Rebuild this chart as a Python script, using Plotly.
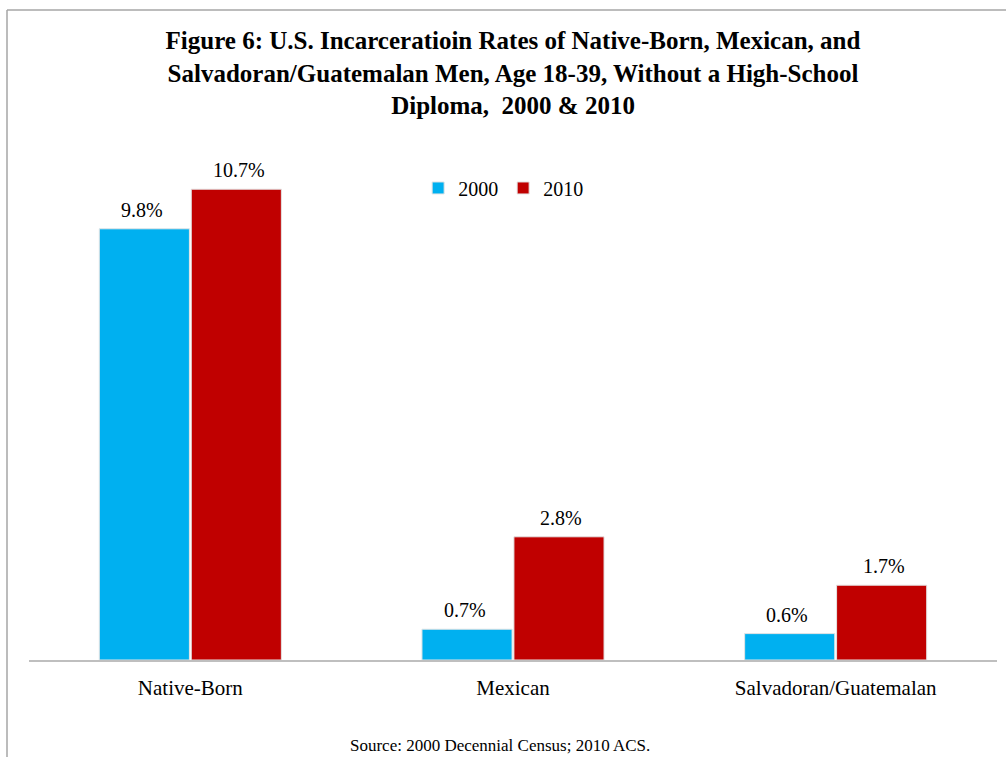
import plotly.graph_objs as go

categories = ['Native-Born', 'Mexican', 'Salvadoran/Guatemalan']
rates_2000 = [9.8, 0.7, 0.6]
rates_2010 = [10.7, 2.8, 1.7]

FONT = 'Liberation Serif, Times New Roman, serif'

trace1 = go.Bar(
    x=categories,
    y=rates_2000,
    name='2000',
    offsetgroup='2000',
    marker=dict(color='#00B0F0', line=dict(color='#E4E4E4', width=1))
)

trace2 = go.Bar(
    x=categories,
    y=rates_2010,
    name='2010',
    offsetgroup='2010',
    marker=dict(color='#C00000', line=dict(color='#E4E4E4', width=1))
)

layout = go.Layout(
    width=1006, height=757,
    barmode='group', bargap=0.43, bargroupgap=0.02,
    plot_bgcolor='white', paper_bgcolor='white',
    margin=dict(l=29, r=9, t=132, b=97),
    font=dict(family=FONT, size=20, color='black'),
    title=dict(
        text='<b>Figure 6: U.S. Incarceratioin Rates of Native-Born, Mexican, and<br>'
             'Salvadoran/Guatemalan Men, Age 18-39, Without a High-School<br>'
             'Diploma,  2000 & 2010</b>',
        x=0.5, xref='paper', xanchor='center',
        y=0.935, yref='container', yanchor='top',
        font=dict(family=FONT, size=25, color='black')
    ),
    xaxis=dict(showline=True, linecolor='#BFBFBF', linewidth=1.5,
               ticks='', tickfont=dict(size=21), ticklabelstandoff=8),
    yaxis=dict(range=[0, 12], visible=False, showgrid=False),
    legend=dict(orientation='h', x=0.402, xanchor='left', y=0.894, yanchor='middle',
                font=dict(size=20), traceorder='normal'),
)

fig = go.Figure(data=[trace1, trace2], layout=layout)

# value labels above bars, offset a bit like the original
for vals, shift in ((rates_2000, -0.15), (rates_2010, 0.15)):
    for i, v in enumerate(vals):
        fig.add_annotation(x=i + shift, y=v, text='%.1f%%' % v,
                           showarrow=False, yanchor='bottom', yshift=6,
                           font=dict(family=FONT, size=20, color='black'))

# outer chart frame (cut off on right and bottom in the original)
fig.add_shape(type='line', xref='paper', yref='paper',
              x0=-22 / 968, x1=1.02, y0=(660 - 10) / 528, y1=(660 - 10) / 528,
              line=dict(color='#A6A6A6', width=1.5))
fig.add_shape(type='line', xref='paper', yref='paper',
              x0=-22 / 968, x1=-22 / 968, y0=(660 - 10) / 528, y1=-0.2,
              line=dict(color='#A6A6A6', width=1.5))

fig.add_annotation(text='Source: 2000 Decennial Census; 2010 ACS.',
                   xref='paper', yref='paper', x=0.487, y=(660 - 745) / 528,
                   showarrow=False, yanchor='middle',
                   font=dict(family=FONT, size=17, color='black'))

fig.write_html('out.html', config=dict(displayModeBar=False),
               post_script="document.body.style.margin='0px';")
